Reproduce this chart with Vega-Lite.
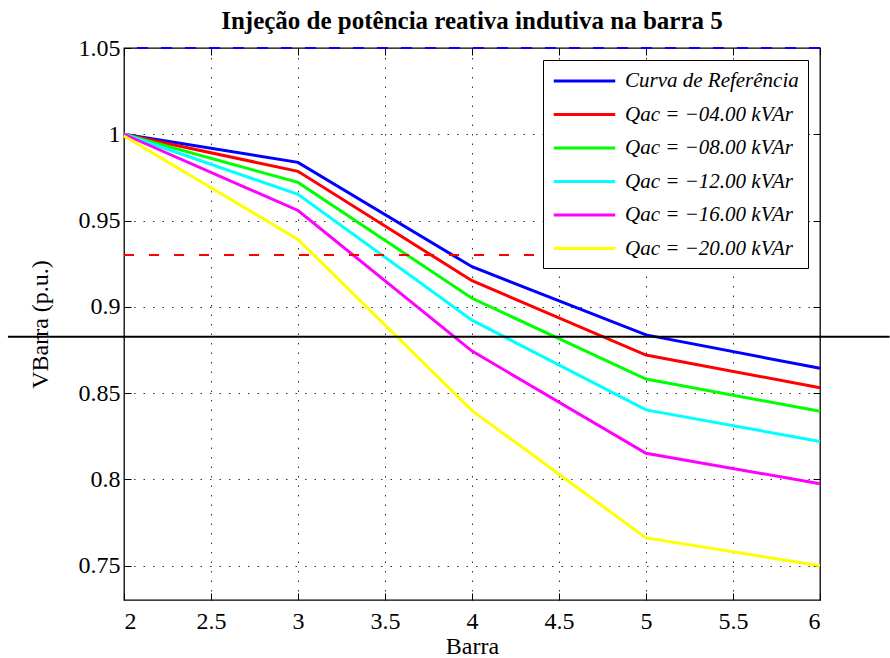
{
  "$schema": "https://vega.github.io/schema/vega-lite/v6.json",
  "width": 696,
  "height": 552,
  "autosize": {"type": "none"},
  "padding": {"left": 124, "top": 48, "right": 70, "bottom": 58},
  "background": "white",
  "title": {
    "text": "Injeção de potência reativa indutiva na barra 5",
    "font": "Liberation Serif",
    "fontSize": 25,
    "fontWeight": "bold",
    "color": "black",
    "offset": 2,
    "anchor": "middle"
  },
  "config": {
    "font": "Liberation Serif",
    "style": {
      "guide-label": {"font": "Liberation Serif", "fontSize": 24, "fill": "black"},
      "guide-title": {"font": "Liberation Serif", "fontSize": 24, "fill": "black"}
    },
    "view": {"stroke": "black", "strokeWidth": 1.3},
    "axis": {
      "labelFont": "Liberation Serif",
      "labelFontSize": 24,
      "labelColor": "black",
      "titleFont": "Liberation Serif",
      "titleFontSize": 24,
      "titleFontWeight": "normal",
      "titleColor": "black",
      "tickColor": "black",
      "tickSize": -7,
      "tickWidth": 1,
      "domain": false,
      "gridColor": "#333333",
      "gridDash": [1.5, 8],
      "gridWidth": 1
    }
  },
  "datasets": {
    "curvas": [
      {"barra": 2, "v": 1.0, "serie": "Curva de Referência"},
      {"barra": 3, "v": 0.9837, "serie": "Curva de Referência"},
      {"barra": 4, "v": 0.9232, "serie": "Curva de Referência"},
      {"barra": 5, "v": 0.8837, "serie": "Curva de Referência"},
      {"barra": 6, "v": 0.8643, "serie": "Curva de Referência"},
      {"barra": 2, "v": 1.0, "serie": "Qac = −04.00 kVAr"},
      {"barra": 3, "v": 0.9785, "serie": "Qac = −04.00 kVAr"},
      {"barra": 4, "v": 0.9151, "serie": "Qac = −04.00 kVAr"},
      {"barra": 5, "v": 0.872, "serie": "Qac = −04.00 kVAr"},
      {"barra": 6, "v": 0.8531, "serie": "Qac = −04.00 kVAr"},
      {"barra": 2, "v": 1.0, "serie": "Qac = −08.00 kVAr"},
      {"barra": 3, "v": 0.9721, "serie": "Qac = −08.00 kVAr"},
      {"barra": 4, "v": 0.9049, "serie": "Qac = −08.00 kVAr"},
      {"barra": 5, "v": 0.8581, "serie": "Qac = −08.00 kVAr"},
      {"barra": 6, "v": 0.8394, "serie": "Qac = −08.00 kVAr"},
      {"barra": 2, "v": 1.0, "serie": "Qac = −12.00 kVAr"},
      {"barra": 3, "v": 0.9652, "serie": "Qac = −12.00 kVAr"},
      {"barra": 4, "v": 0.8922, "serie": "Qac = −12.00 kVAr"},
      {"barra": 5, "v": 0.8402, "serie": "Qac = −12.00 kVAr"},
      {"barra": 6, "v": 0.8219, "serie": "Qac = −12.00 kVAr"},
      {"barra": 2, "v": 1.0, "serie": "Qac = −16.00 kVAr"},
      {"barra": 3, "v": 0.9558, "serie": "Qac = −16.00 kVAr"},
      {"barra": 4, "v": 0.8743, "serie": "Qac = −16.00 kVAr"},
      {"barra": 5, "v": 0.8151, "serie": "Qac = −16.00 kVAr"},
      {"barra": 6, "v": 0.7974, "serie": "Qac = −16.00 kVAr"},
      {"barra": 2, "v": 0.999, "serie": "Qac = −20.00 kVAr"},
      {"barra": 3, "v": 0.939, "serie": "Qac = −20.00 kVAr"},
      {"barra": 4, "v": 0.8398, "serie": "Qac = −20.00 kVAr"},
      {"barra": 5, "v": 0.766, "serie": "Qac = −20.00 kVAr"},
      {"barra": 6, "v": 0.7498, "serie": "Qac = −20.00 kVAr"}
    ]
  },
  "resolve": {"axis": {"x": "independent", "y": "independent"}},
  "layer": [
    {
      "data": {"name": "curvas"},
      "mark": {"type": "line", "strokeWidth": 3},
      "encoding": {
        "x": {
          "field": "barra",
          "type": "quantitative",
          "scale": {"domain": [2, 6], "nice": false, "zero": false},
          "axis": {
            "orient": "bottom",
            "title": "Barra",
            "values": [2, 2.5, 3, 3.5, 4, 4.5, 5, 5.5, 6],
            "format": "~g",
            "labelFont": "Liberation Serif",
            "labelFontSize": 24,
            "titleFont": "Liberation Serif",
            "titleFontSize": 24,
            "labelPadding": 16,
            "titlePadding": 1,
            "grid": true
          }
        },
        "y": {
          "field": "v",
          "type": "quantitative",
          "scale": {"domain": [0.73, 1.05], "nice": false, "zero": false},
          "axis": {
            "orient": "left",
            "title": "VBarra (p.u.)",
            "values": [0.75, 0.8, 0.85, 0.9, 0.95, 1, 1.05],
            "format": "~g",
            "labelFont": "Liberation Serif",
            "labelFontSize": 24,
            "titleFont": "Liberation Serif",
            "titleFontSize": 24,
            "labelPadding": 11,
            "titlePadding": 26,
            "grid": true
          }
        },
        "color": {
          "field": "serie",
          "type": "nominal",
          "scale": {
            "domain": ["Curva de Referência", "Qac = −04.00 kVAr", "Qac = −08.00 kVAr", "Qac = −12.00 kVAr", "Qac = −16.00 kVAr", "Qac = −20.00 kVAr"],
            "range": ["#0000ff", "#ff0000", "#00ff00", "#00ffff", "#ff00ff", "#ffff00"]
          },
          "legend": {
            "title": null,
            "orient": "top-right",
            "offset": 12,
            "fillColor": "white",
            "strokeColor": "black",
            "padding": 9,
            "symbolType": "M-1,0H5",
            "symbolSize": 420,
            "symbolStrokeWidth": 3,
            "labelFont": "Liberation Serif",
            "labelFontStyle": "italic",
            "labelFontSize": 21,
            "labelColor": "black",
            "labelOffset": 49,
            "labelLimit": 400,
            "rowPadding": 11.5
          }
        }
      }
    },
    {
      "data": {"values": [{}]},
      "mark": {"type": "rule", "color": "#ff0000", "strokeWidth": 2, "strokeDash": [10, 15]},
      "encoding": {
        "x": {"datum": 2, "type": "quantitative", "axis": {"orient": "top", "labels": false, "title": null, "grid": false, "values": [2, 2.5, 3, 3.5, 4, 4.5, 5, 5.5, 6]}},
        "x2": {"datum": 6},
        "y": {"datum": 0.93, "type": "quantitative", "axis": {"orient": "right", "labels": false, "title": null, "grid": false, "values": [0.75, 0.8, 0.85, 0.9, 0.95, 1, 1.05]}}
      }
    },
    {
      "data": {"values": [{}]},
      "mark": {"type": "rule", "color": "#0000ff", "strokeWidth": 2, "strokeDash": [11, 13]},
      "encoding": {
        "y": {"datum": 1.05, "type": "quantitative", "axis": null}
      }
    },
    {
      "data": {"values": [{}]},
      "mark": {"type": "rule", "color": "black", "strokeWidth": 2, "clip": false},
      "encoding": {
        "x": {"datum": 1.333, "type": "quantitative", "axis": null},
        "x2": {"datum": 6.4},
        "y": {"datum": 0.8826, "type": "quantitative", "axis": null}
      }
    }
  ]
}
